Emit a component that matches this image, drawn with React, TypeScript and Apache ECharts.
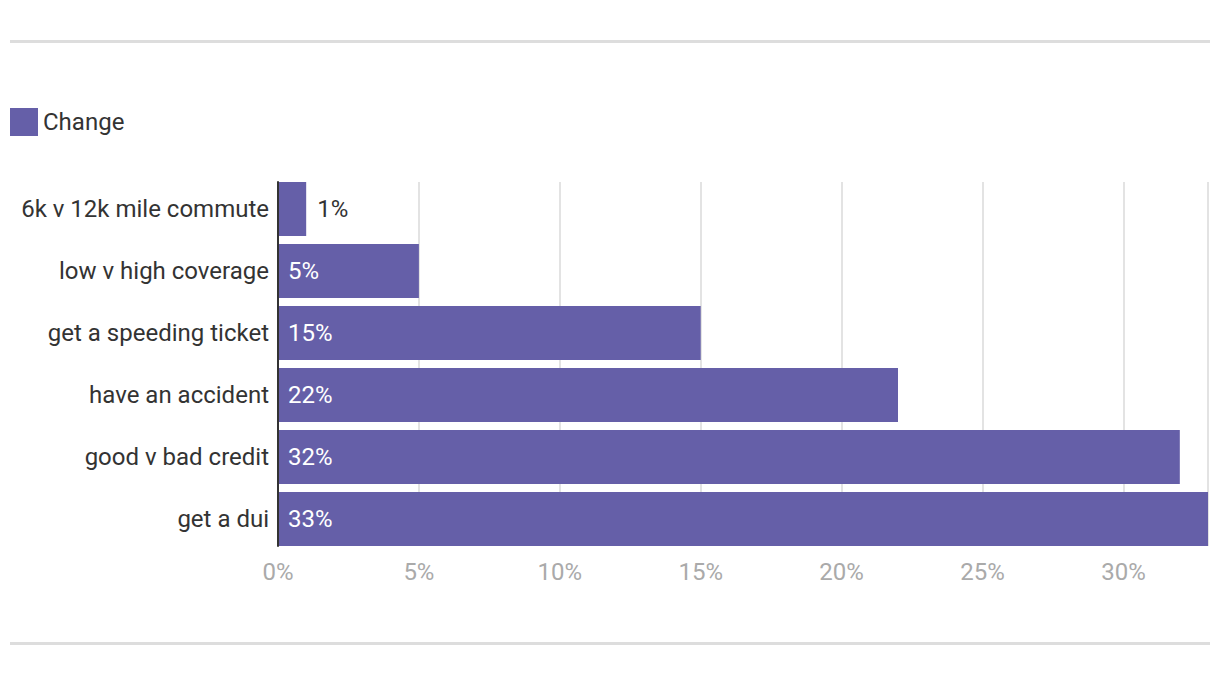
import React, { useEffect, useRef } from "react";
import * as echarts from "echarts";

const categories = [
  "6k v 12k mile commute",
  "low v high coverage",
  "get a speeding ticket",
  "have an accident",
  "good v bad credit",
  "get a dui",
];
const changeValues = [1, 5, 15, 22, 32, 33];
const seriesName = "Change";
const xTicks = [0, 5, 10, 15, 20, 25, 30];

export default function App() {
  const ref = useRef<HTMLDivElement>(null);
  useEffect(() => {
    if (!ref.current) return;
    const chart = echarts.init(ref.current, null, { renderer: "svg" });
    const font = "Roboto";
    chart.setOption({
      animation: false,
      textStyle: { fontFamily: font },
      legend: {
        left: 5,
        top: 103,
        itemWidth: 28,
        itemHeight: 28,
        itemGap: 20,
        icon: "rect",
        textStyle: { fontSize: 24, color: "#333", fontFamily: font, padding: [0, 0, 4, 0] },
        data: [seriesName],
      },
      grid: [
        { left: 278, right: 12, top: 178, height: 372, containLabel: false },
        { left: 278, right: 12, top: 182, height: 364, containLabel: false },
      ],
      xAxis: [
        {
          type: "value",
          gridIndex: 0,
          min: 0,
          max: 33,
          interval: 5,
          axisLine: { show: false },
          axisTick: { show: false },
          splitLine: { show: false },
          axisLabel: {
            color: "#aaaaaa",
            fontSize: 24,
            fontFamily: font,
            margin: 10,
            formatter: (v: number) => (xTicks.includes(v) ? v + "%" : ""),
          },
        },
        {
          type: "value",
          gridIndex: 1,
          min: 0,
          max: 33,
          interval: 5,
          axisLine: { show: false },
          axisTick: { show: false },
          axisLabel: { show: false },
          splitLine: { show: true, lineStyle: { color: "#e3e3e3", width: 2 } },
          z: 0,
        },
      ],
      yAxis: [
        {
          type: "category",
          gridIndex: 0,
          inverse: true,
          data: categories,
          axisLine: { show: false },
          axisTick: { show: false },
          axisLabel: { color: "#333", fontSize: 24, fontFamily: font, margin: 9 },
        },
        {
          type: "category",
          gridIndex: 1,
          inverse: true,
          data: categories,
          axisLine: { show: true, lineStyle: { color: "#333", width: 2 } },
          axisTick: { show: false },
          axisLabel: { show: false },
          z: 5,
        },
      ],
      series: [
        {
          name: seriesName,
          type: "bar",
          xAxisIndex: 0,
          yAxisIndex: 0,
          barCategoryGap: "13%",
          itemStyle: { color: "#655fa8" },
          data: changeValues.map((v) => ({
            value: v,
            label:
              v < 3
                ? { show: true, position: "right", distance: 11, color: "#333" }
                : { show: true, position: "insideLeft", distance: 10, color: "#fff" },
          })),
          label: {
            show: true,
            fontSize: 24,
            fontFamily: font,
            formatter: (p: any) => p.value + "%",
          },
        },
      ],
      graphic: [
        { type: "rect", left: 10, top: 40, shape: { width: 1200, height: 3 }, style: { fill: "#dddddd" } },
        { type: "rect", left: 10, top: 642, shape: { width: 1200, height: 3 }, style: { fill: "#dddddd" } },
      ],
    });
    return () => chart.dispose();
  }, []);
  return (
    <div
      ref={ref}
      style={{ position: "fixed", left: 0, top: 0, width: 1220, height: 678, background: "#fff" }}
    />
  );
}
